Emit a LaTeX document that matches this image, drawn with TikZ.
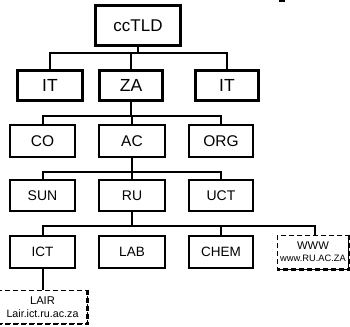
\documentclass[tikz,border=0pt]{standalone}
\usepackage{fontspec}
\setmainfont{Liberation Sans}
\begin{document}
\begin{tikzpicture}[x=1pt,y=-1pt,
  tld/.style={draw,line width=3pt,inner sep=0pt,align=center},
  dom/.style={draw,line width=2pt,inner sep=0pt,align=center},
  host/.style={draw,line width=1pt,dash pattern=on 5pt off 3pt,inner sep=0pt,align=center},
  hostshade/.style={line width=2.5pt,dash pattern=on 5pt off 3pt},
  wire/.style={line width=2pt}]
\useasboundingbox (0,0) rectangle (350,326);
% top
\node[tld,minimum width=85pt,minimum height=40pt,font=\fontsize{17}{20}\selectfont] (cc) at (138,25.5) {ccTLD};
\node[tld,minimum width=65pt,minimum height=30pt,font=\fontsize{17.5}{20}\selectfont] (it1) at (50,85.5) {IT};
\node[tld,minimum width=63pt,minimum height=30pt,font=\fontsize{17.5}{20}\selectfont] (za) at (131,85.5) {ZA};
\node[tld,minimum width=63pt,minimum height=30pt,font=\fontsize{17.5}{20}\selectfont] (it2) at (227,85.5) {IT};
% row 3
\node[dom,minimum width=65pt,minimum height=32pt,font=\fontsize{15.5}{18}\selectfont] (co) at (42.5,141) {CO};
\node[dom,minimum width=66pt,minimum height=32pt,font=\fontsize{15.5}{18}\selectfont] (ac) at (132,141) {AC};
\node[dom,minimum width=64pt,minimum height=32pt,font=\fontsize{15.5}{18}\selectfont] (org) at (221,141) {ORG};
% row 4
\node[dom,minimum width=65pt,minimum height=31pt,font=\fontsize{14}{17}\selectfont] (sun) at (42.5,195.5) {SUN};
\node[dom,minimum width=66pt,minimum height=31pt,font=\fontsize{14}{17}\selectfont] (ru) at (132,195.5) {RU};
\node[dom,minimum width=64pt,minimum height=31pt,font=\fontsize{14}{17}\selectfont] (uct) at (221,195.5) {UCT};
% row 5
\node[dom,minimum width=65pt,minimum height=32pt,font=\fontsize{13.5}{16}\selectfont] (ict) at (42.5,252) {ICT};
\node[dom,minimum width=66pt,minimum height=32pt,font=\fontsize{13.5}{16}\selectfont] (lab) at (132,252) {LAB};
\node[dom,minimum width=64pt,minimum height=32pt,font=\fontsize{13.5}{16}\selectfont] (chem) at (221,252) {CHEM};
\node[host,minimum width=71pt,minimum height=34pt] (www) at (313,252)
  {{\fontsize{11.2}{11}\selectfont WWW}\\[0pt]{\fontsize{9.3}{10}\selectfont www.RU.AC.ZA}};
\draw[hostshade] (www.north east) -- (www.south east) -- (www.south west);
% row 6
\node[host,minimum width=89pt,minimum height=33.5pt] (lair) at (42.5,306.75)
  {{\fontsize{11.2}{12}\selectfont LAIR}\\[1pt]{\fontsize{10.7}{12}\selectfont Lair.ict.ru.ac.za}};
\draw[hostshade] (lair.north east) -- (lair.south east) -- (lair.south west);
% buses
\coordinate (b1) at (0,53);
\coordinate (b2) at (0,116);
\coordinate (b3) at (0,172);
\coordinate (b4) at (0,226);
\draw[wire] (cc.south) -- (cc.south |- b1);
\draw[wire] (it1.north) -- (it1.north |- b1) -- (it2.north |- b1) -- (it2.north);
\draw[wire] (za.north) -- (za.north |- b1);
\draw[wire] (za.south) -- (za.south |- b2);
\draw[wire] (co.north) -- (co.north |- b2) -- (org.north |- b2) -- (org.north);
\draw[wire] (ac.north) -- (ac.north |- b2);
\draw[wire] (ac.south) -- (ac.south |- b3);
\draw[wire] (sun.north) -- (sun.north |- b3) -- (uct.north |- b3) -- (uct.north);
\draw[wire] (ru.north) -- (ru.north |- b3);
\draw[wire] (ru.south) -- (ru.south |- b4);
\draw[wire] (ict.north) -- (ict.north |- b4) -- ([xshift=2pt]www.north |- b4) -- ([xshift=2pt]www.north);
\draw[wire] (chem.north) -- (chem.north |- b4);
\draw[wire] (ict.south) -- (ict.south |- lair.north);
% cropped fragment at top right
\fill (279,0) rectangle (285,2);
\end{tikzpicture}
\end{document}
